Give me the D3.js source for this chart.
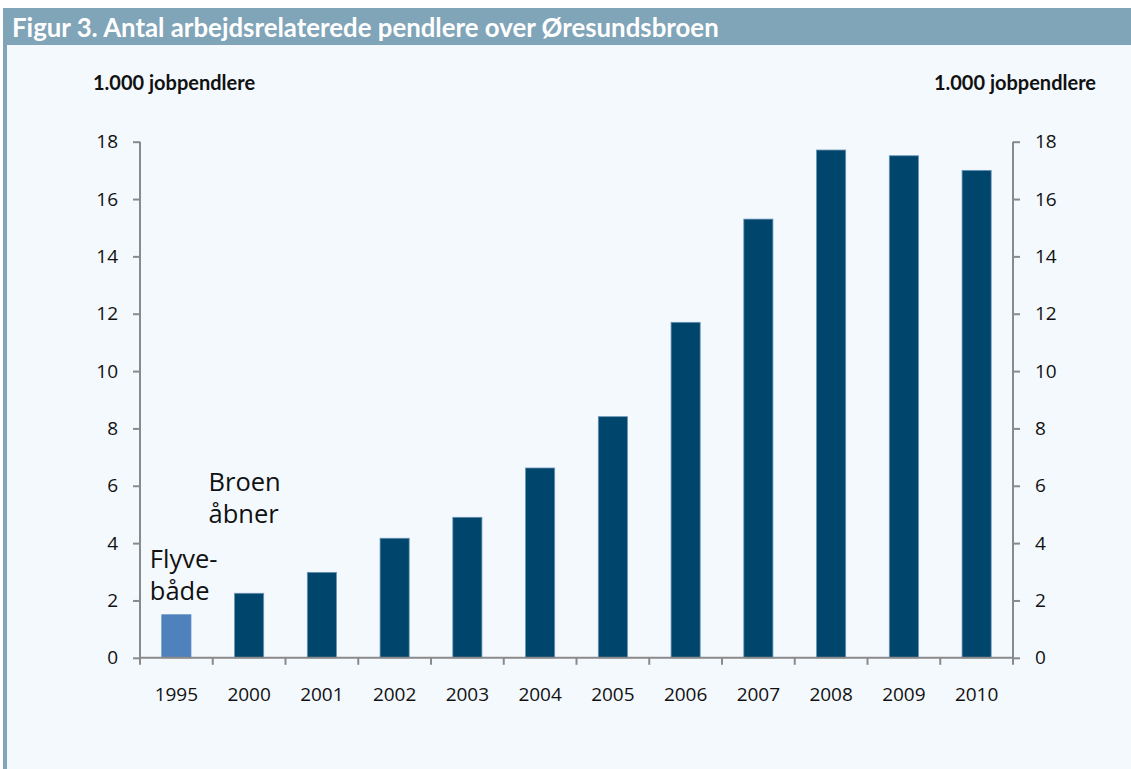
<!DOCTYPE html>
<html><head><meta charset="utf-8">
<script src="https://cdnjs.cloudflare.com/ajax/libs/d3/7.8.5/d3.min.js"></script>
<style>
html,body{margin:0;padding:0;background:#fff;}
svg{display:block;}
</style></head>
<body>
<script>
const categories = ["1995","2000","2001","2002","2003","2004","2005","2006","2007","2008","2009","2010"];
const values = [1.50,2.25,2.98,4.17,4.90,6.62,8.41,11.70,15.30,17.71,17.51,17.00];
const yTicks = [0,2,4,6,8,10,12,14,16,18];
const title = "Figur 3. Antal arbejdsrelaterede pendlere over Øresundsbroen";
const axisTitle = "1.000 jobpendlere";
const annotations = [
  {lines:["Broen","åbner"], cat:"2000"},
  {lines:["Flyve-","både"], cat:"1995"}
];

(function(){
const W = 1131, H = 769;
const svg = d3.select("body").append("svg").attr("width", W).attr("height", H);

svg.append("rect").attr("x",0).attr("y",0).attr("width",W).attr("height",H).attr("fill","#ffffff");
svg.append("rect").attr("x",3).attr("y",8).attr("width",W-3).attr("height",H-8).attr("fill","#f4f9fe");
svg.append("rect").attr("x",3).attr("y",8).attr("width",W-3).attr("height",37).attr("fill","#80a4b8");
svg.append("rect").attr("x",3).attr("y",45).attr("width",4).attr("height",H-45).attr("fill","#80a4b8");

svg.append("text").attr("x",12).attr("y",37)
  .attr("font-family","Lato, 'Open Sans', sans-serif").attr("font-weight","bold")
  .attr("font-size",25.8).attr("fill","#ffffff").text(title);

const pl = 140, pr = 1013, pt = 141.7, pb = 657.8;
const x = d3.scaleBand().domain(categories).range([pl,pr]).paddingInner(0.6).paddingOuter(0.3);
const y = d3.scaleLinear().domain([0,18]).range([pb,pt]);

const axisColor = "#8a8a8a";
const tickFont = "'Open Sans', sans-serif";

svg.append("g").selectAll("rect").data(categories).join("rect")
  .attr("x", d => x(d))
  .attr("y", (d,i) => y(values[i]))
  .attr("width", x.bandwidth())
  .attr("height", (d,i) => y(0) - y(values[i]))
  .attr("fill", (d,i) => i === 0 ? "#4f81bd" : "#00456c")
  .attr("stroke", (d,i) => i === 0 ? "#4f81bd" : "#6a93b3")
  .attr("stroke-width", 0.8);

const gl = svg.append("g").attr("transform", `translate(${pl},0)`)
  .call(d3.axisLeft(y).tickValues(yTicks).tickSize(7).tickPadding(15).tickFormat(d3.format("d")));
const gr = svg.append("g").attr("transform", `translate(${pr},0)`)
  .call(d3.axisRight(y).tickValues(yTicks).tickSize(7).tickPadding(15).tickFormat(d3.format("d")));
[gl,gr].forEach(g => {
  g.select(".domain").attr("stroke", axisColor).attr("stroke-width",2).attr("d", `M0,${pb}V${pt}`);
  g.selectAll(".tick line").attr("stroke", axisColor).attr("stroke-width",2);
  g.selectAll(".tick text").attr("font-family", tickFont).attr("font-size",19).attr("fill","#111");
});

const bounds = d3.range(categories.length + 1).map(i => pl + i * (pr-pl)/categories.length);
const gx = svg.append("g");
gx.append("line").attr("x1",pl-1).attr("x2",pr+1).attr("y1",pb).attr("y2",pb)
  .attr("stroke",axisColor).attr("stroke-width",2);
gx.selectAll("line.t").data(bounds).join("line").attr("class","t")
  .attr("x1",d=>d).attr("x2",d=>d).attr("y1",pb).attr("y2",pb+7)
  .attr("stroke",axisColor).attr("stroke-width",2);
gx.selectAll("text").data(categories).join("text")
  .attr("x", d => x(d) + x.bandwidth()/2).attr("y", 701)
  .attr("text-anchor","middle").attr("font-family",tickFont).attr("font-size",19).attr("fill","#111")
  .text(d => d);

svg.append("text").attr("x",93).attr("y",90).attr("font-family","Lato, sans-serif").attr("font-weight","bold")
  .attr("font-size",20).attr("fill","#111").text(axisTitle);
svg.append("text").attr("x",1096).attr("y",90).attr("text-anchor","end").attr("font-family","Lato, sans-serif").attr("font-weight","bold")
  .attr("font-size",20).attr("fill","#111").text(axisTitle);

const annPos = [{dx: -26, y0: 491}, {dx: -12, y0: 568}];
annotations.forEach((a,k) => {
  const cx = x(a.cat);
  const t = svg.append("text").attr("font-family",tickFont).attr("font-size",25.5).attr("fill","#111");
  a.lines.forEach((ln,j) => {
    t.append("tspan").attr("x", cx + annPos[k].dx).attr("y", annPos[k].y0 + j*32).text(ln);
  });
});
})();
</script>
</body></html>
